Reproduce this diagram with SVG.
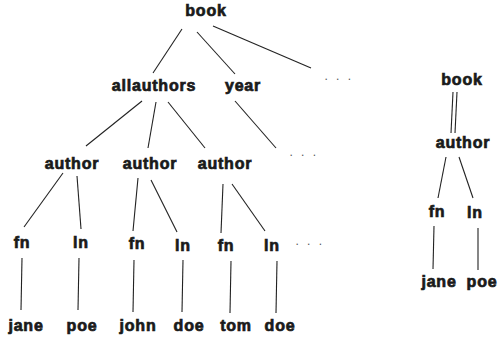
<svg xmlns="http://www.w3.org/2000/svg" width="499" height="341" viewBox="0 0 499 341">
<style>
.t{font-family:"Liberation Sans",Arial,sans-serif;font-weight:bold;font-size:16px;letter-spacing:0.8px;fill:#1a1a1a;stroke:#1a1a1a;stroke-width:0.7;text-anchor:middle}
.d{font-family:"Liberation Sans",Arial,sans-serif;font-size:12px;letter-spacing:2.5px;fill:#555;text-anchor:middle}
.e line{stroke:#222;stroke-width:1.1}
</style>
<rect width="499" height="341" fill="#fff"/>
<g class="e" id="connectors">
<line x1="182" y1="29" x2="153" y2="73"/>
<line x1="197" y1="32" x2="235" y2="74"/>
<line x1="213" y1="26" x2="311" y2="68"/>
<line x1="142" y1="101" x2="86" y2="146"/>
<line x1="156" y1="102" x2="148" y2="148"/>
<line x1="168" y1="102" x2="205" y2="148"/>
<line x1="235" y1="101" x2="276" y2="148"/>
<line x1="63" y1="173" x2="24" y2="227"/>
<line x1="77" y1="176" x2="81" y2="229"/>
<line x1="138" y1="178" x2="133" y2="231"/>
<line x1="151" y1="180" x2="177" y2="232"/>
<line x1="223" y1="184" x2="221" y2="233"/>
<line x1="232" y1="184" x2="265" y2="231"/>
<line x1="22" y1="258" x2="21" y2="310"/>
<line x1="79" y1="258" x2="78" y2="310"/>
<line x1="134" y1="260" x2="133" y2="312"/>
<line x1="183" y1="260" x2="182" y2="312"/>
<line x1="231" y1="261" x2="230" y2="313"/>
<line x1="277" y1="261" x2="276" y2="313"/>
<line x1="453" y1="92" x2="451" y2="133"/>
<line x1="457" y1="92" x2="455" y2="133"/>
<line x1="446" y1="157" x2="438" y2="198"/>
<line x1="459" y1="157" x2="473" y2="198"/>
<line x1="434" y1="226" x2="433" y2="269"/>
<line x1="478" y1="228" x2="478" y2="270"/>
</g>
<g id="book"><text class="t" x="206" y="16">book</text></g>
<g id="allauthors"><text class="t" x="154" y="91">allauthors</text></g>
<g id="year"><text class="t" x="243" y="91">year</text></g>
<g id="dots1"><text class="d" x="339" y="80">. . .</text></g>
<g id="author1"><text class="t" x="72" y="169">author</text></g>
<g id="author2"><text class="t" x="150" y="169">author</text></g>
<g id="author3"><text class="t" x="225" y="169">author</text></g>
<g id="dots2"><text class="d" x="304" y="156">. . .</text></g>
<g id="fn1"><text class="t" x="22" y="248">fn</text></g>
<g id="ln1"><text class="t" x="81" y="248">ln</text></g>
<g id="fn2"><text class="t" x="137" y="249">fn</text></g>
<g id="ln2"><text class="t" x="183" y="251">ln</text></g>
<g id="fn3"><text class="t" x="226" y="251">fn</text></g>
<g id="ln3"><text class="t" x="272" y="251">ln</text></g>
<g id="dots3"><text class="d" x="310" y="245">. . .</text></g>
<g id="jane1"><text class="t" x="26" y="331">jane</text></g>
<g id="poe1"><text class="t" x="82" y="331">poe</text></g>
<g id="john"><text class="t" x="138" y="331">john</text></g>
<g id="doe1"><text class="t" x="189" y="331">doe</text></g>
<g id="tom"><text class="t" x="236" y="331">tom</text></g>
<g id="doe2"><text class="t" x="280" y="331">doe</text></g>
<g id="book2"><text class="t" x="462" y="85">book</text></g>
<g id="author4"><text class="t" x="463" y="148">author</text></g>
<g id="fn4"><text class="t" x="437" y="217">fn</text></g>
<g id="ln4"><text class="t" x="475" y="218">ln</text></g>
<g id="jane2"><text class="t" x="439" y="287">jane</text></g>
<g id="poe2"><text class="t" x="482" y="287">poe</text></g>
</svg>
